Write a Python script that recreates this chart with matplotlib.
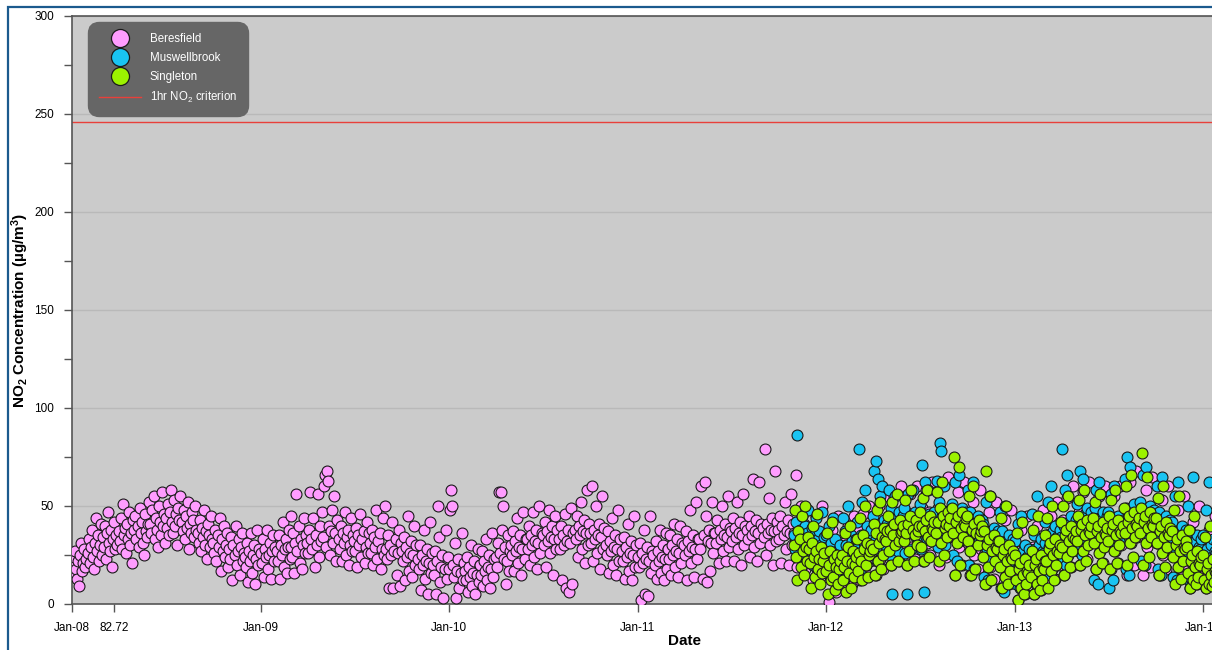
import numpy as np
import pandas as pd
import matplotlib
matplotlib.use("Agg")
import matplotlib.pyplot as plt
import matplotlib.dates as mdates
from matplotlib.patches import Rectangle
from matplotlib.lines import Line2D

plt.rcParams['font.family'] = ['Liberation Sans', 'DejaVu Sans']
plt.rcParams['mathtext.fontset'] = 'custom'
plt.rcParams['mathtext.rm'] = 'Liberation Sans'
plt.rcParams['mathtext.bf'] = 'Liberation Sans:bold'
plt.rcParams['mathtext.default'] = 'regular'

# daily NO2 (ug/m3), one row per month, ~every second day
beresfield_start = '2008-01-01'
beresfield = [
    # 2008
    20, 15, 24, 27, 18, 13, 22, 9, 25, 31, 17, 21, 28, 19, 23,
    26, 33, 21, 29, 38, 24, 18, 31, 44, 27, 35, 22, 30, 41, 25,
    34, 29, 40, 23, 36, 47, 31, 27, 38, 19, 33, 42, 28, 35, 30,
    37, 32, 44, 28, 51, 35, 39, 26, 41, 33, 47, 30, 36, 21, 43,
    38, 45, 33, 40, 29, 49, 36, 42, 31, 25, 46, 37, 34, 41, 52,
    41, 36, 48, 55, 33, 44, 38, 29, 50, 42, 35, 57, 40, 46, 31,
    44, 39, 51, 35, 47, 58, 42, 36, 53, 40, 46, 30, 49, 43, 55,
    42, 37, 48, 33, 45, 39, 52, 28, 41, 36, 47, 43, 34, 50, 38,
    36, 31, 43, 27, 39, 34, 48, 30, 37, 23, 41, 35, 29, 45, 33,
    31, 26, 38, 22, 35, 29, 44, 17, 33, 27, 40, 24, 30, 36, 19,
    28, 23, 34, 12, 30, 25, 40, 20, 27, 33, 15, 29, 36, 22, 26,
    24, 19, 31, 11, 27, 22, 36, 16, 25, 30, 10, 23, 38, 20, 28,
    # 2009
    26, 21, 33, 14, 28, 24, 38, 18, 25, 31, 13, 27, 35, 22, 29,
    27, 22, 35, 13, 30, 25, 42, 19, 28, 33, 16, 29, 38, 23, 45,
    29, 24, 36, 16, 31, 56, 27, 40, 21, 33, 18, 30, 44, 26, 35,
    31, 26, 38, 57, 33, 28, 44, 19, 35, 30, 56, 24, 40, 32, 47,
    34, 60, 66, 29, 68, 63, 40, 25, 37, 48, 31, 55, 36, 22, 43,
    33, 28, 40, 22, 36, 31, 47, 25, 34, 38, 20, 30, 44, 27, 35,
    32, 27, 39, 19, 35, 30, 46, 24, 33, 37, 21, 29, 42, 26, 36,
    31, 26, 38, 20, 34, 29, 48, 23, 32, 36, 18, 28, 44, 25, 50,
    28, 23, 35, 8, 30, 25, 42, 8, 27, 33, 15, 26, 38, 9, 31,
    27, 22, 34, 12, 29, 24, 45, 17, 26, 32, 14, 25, 40, 20, 30,
    23, 18, 30, 7, 25, 20, 38, 13, 22, 28, 5, 21, 42, 16, 26,
    20, 15, 27, 5, 22, 50, 34, 11, 19, 25, 3, 18, 38, 13, 24,
    # 2010
    18, 48, 58, 50, 20, 14, 31, 3, 17, 23, 8, 16, 36, 12, 21,
    17, 12, 24, 6, 19, 14, 30, 9, 16, 22, 5, 15, 28, 11, 20,
    20, 15, 27, 9, 22, 17, 33, 12, 19, 25, 8, 18, 36, 14, 23,
    24, 19, 31, 57, 26, 57, 38, 50, 23, 29, 10, 22, 35, 17, 27,
    30, 25, 37, 17, 32, 27, 44, 21, 29, 35, 15, 28, 47, 23, 33,
    33, 28, 40, 20, 35, 30, 47, 24, 32, 38, 18, 31, 50, 26, 36,
    35, 30, 42, 19, 37, 32, 48, 26, 34, 40, 15, 33, 45, 28, 38,
    33, 28, 40, 12, 35, 30, 46, 8, 32, 38, 6, 31, 49, 10, 36,
    38, 33, 45, 24, 40, 35, 52, 28, 37, 43, 21, 36, 58, 30, 41,
    36, 31, 60, 22, 38, 33, 50, 26, 35, 41, 18, 34, 55, 28, 39,
    30, 25, 37, 16, 32, 27, 44, 20, 29, 35, 15, 28, 48, 22, 33,
    27, 22, 34, 13, 29, 24, 41, 17, 26, 32, 12, 25, 45, 19, 30,
    # 2011
    24, 19, 31, 2, 26, 21, 38, 5, 23, 29, 4, 22, 45, 16, 27,
    25, 20, 32, 13, 27, 22, 38, 16, 24, 30, 12, 23, 36, 18, 28,
    28, 23, 35, 15, 30, 25, 41, 19, 27, 33, 14, 26, 40, 21, 31,
    30, 25, 37, 12, 32, 27, 48, 21, 29, 35, 14, 28, 52, 23, 33,
    33, 28, 60, 13, 35, 62, 45, 11, 32, 38, 17, 31, 52, 26, 36,
    36, 31, 43, 21, 38, 33, 50, 27, 35, 41, 22, 34, 55, 29, 39,
    37, 32, 44, 22, 39, 34, 52, 28, 36, 42, 20, 35, 56, 30, 40,
    38, 33, 45, 24, 40, 35, 64, 29, 37, 43, 22, 36, 62, 31, 41,
    39, 34, 79, 25, 41, 36, 54, 30, 38, 44, 20, 37, 68, 32, 42,
    38, 33, 45, 21, 40, 35, 52, 28, 37, 43, 20, 36, 56, 30, 41,
    36, 31, 66, 19, 38, 33, 50, 26, 35, 41, 18, 34, 48, 28, 39,
    30, 25, 37, 12, 32, 27, 45, 20, 29, 35, 14, 28, 50, 22, 33,
    # 2012
    22, 17, 29, 1, 24, 19, 38, 12, 21, 27, 6, 20, 45, 14, 25,
    24, 19, 31, 8, 26, 21, 40, 14, 23, 29, 10, 22, 45, 16, 27,
    30, 25, 37, 12, 32, 27, 46, 20, 29, 35, 15, 28, 50, 22, 33,
    34, 29, 41, 15, 36, 31, 50, 23, 33, 39, 18, 32, 55, 26, 37,
    38, 33, 45, 20, 40, 35, 55, 28, 37, 43, 22, 36, 60, 30, 41,
    40, 35, 47, 20, 42, 37, 56, 29, 39, 45, 23, 38, 60, 32, 43,
    42, 37, 49, 22, 44, 39, 58, 31, 41, 47, 25, 40, 62, 34, 45,
    42, 37, 49, 20, 44, 39, 60, 31, 41, 47, 24, 40, 65, 34, 45,
    40, 35, 47, 15, 42, 37, 57, 29, 39, 45, 20, 38, 62, 32, 43,
    36, 31, 43, 15, 38, 33, 52, 25, 35, 41, 18, 34, 58, 28, 39,
    30, 25, 37, 10, 32, 27, 47, 19, 29, 35, 13, 28, 52, 22, 33,
    26, 21, 33, 8, 28, 23, 43, 15, 25, 31, 10, 24, 48, 18, 29,
    # 2013
    20, 15, 27, 2, 22, 17, 38, 10, 19, 25, 5, 18, 45, 12, 23,
    22, 17, 29, 5, 24, 19, 40, 12, 21, 27, 7, 20, 48, 14, 25,
    28, 23, 35, 10, 30, 25, 45, 18, 27, 33, 13, 26, 52, 20, 31,
    36, 31, 43, 15, 38, 33, 54, 25, 35, 41, 19, 34, 60, 28, 39,
    40, 35, 47, 20, 42, 37, 57, 29, 39, 45, 23, 38, 62, 32, 43,
    38, 33, 45, 18, 40, 35, 55, 27, 37, 43, 21, 36, 60, 30, 41,
    38, 33, 45, 18, 40, 35, 55, 27, 37, 43, 21, 36, 60, 30, 41,
    42, 37, 49, 15, 44, 39, 62, 31, 41, 47, 20, 40, 68, 34, 45,
    40, 35, 47, 15, 42, 37, 58, 29, 39, 45, 19, 38, 65, 32, 43,
    36, 31, 43, 15, 38, 33, 53, 25, 35, 41, 18, 34, 60, 28, 39,
    30, 25, 37, 12, 32, 27, 48, 19, 29, 35, 14, 28, 55, 22, 33,
    24, 19, 31, 8, 26, 21, 42, 14, 23, 29, 10, 22, 50, 16, 27,
    # 2014
    20, 15, 27, 8, 22, 17, 38, 11, 19, 25, 9, 18, 45, 13, 23,
    21, 16, 28, 9, 23, 18, 40, 12, 20, 26, 10, 19, 44, 14, 24,
]

muswellbrook_start = '2011-11-01'
muswellbrook = [
    35, 28, 42, 86, 31, 38, 24, 45, 33, 29, 40, 21, 36, 48, 30,
    32, 26, 39, 20, 35, 29, 44, 18, 33, 37, 23, 30, 47, 27, 34,
    35, 16, 28, 40, 22, 31, 19, 44, 25, 33, 15, 27, 21, 26, 30,
    24, 44, 13, 37, 30, 20, 50, 27, 17, 35, 32, 23, 29, 28, 33,
    42, 29, 79, 17, 35, 52, 24, 31, 58, 20, 40, 27, 34, 33, 38,
    45, 68, 32, 73, 22, 64, 38, 55, 27, 60, 37, 43, 30, 36, 41,
    36, 58, 25, 49, 5, 42, 31, 55, 44, 27, 47, 34, 41, 40, 45,
    49, 26, 42, 5, 56, 36, 44, 28, 58, 38, 47, 34, 41, 40, 45,
    51, 28, 71, 38, 6, 62, 44, 33, 58, 46, 40, 36, 43, 42, 47,
    39, 63, 29, 52, 82, 78, 45, 34, 60, 30, 47, 41, 37, 43, 48,
    51, 25, 44, 62, 38, 22, 46, 66, 33, 40, 49, 36, 43, 42, 47,
    34, 58, 20, 47, 40, 29, 62, 18, 42, 36, 45, 32, 39, 38, 43,
    41, 14, 34, 52, 28, 12, 36, 55, 23, 30, 39, 26, 33, 32, 37,
    24, 47, 8, 37, 30, 6, 50, 19, 32, 26, 35, 22, 29, 28, 33,
    32, 10, 25, 41, 19, 8, 45, 14, 27, 21, 30, 17, 24, 23, 28,
    22, 46, 12, 35, 28, 10, 55, 17, 30, 24, 33, 20, 27, 26, 31,
    42, 17, 35, 52, 29, 15, 60, 24, 37, 31, 40, 27, 34, 33, 38,
    34, 79, 22, 40, 58, 20, 66, 29, 42, 36, 45, 32, 39, 38, 43,
    51, 27, 44, 68, 38, 25, 64, 33, 46, 40, 49, 36, 43, 42, 47,
    36, 12, 49, 58, 42, 10, 62, 31, 44, 38, 47, 34, 41, 40, 45,
    47, 8, 34, 56, 40, 12, 60, 29, 42, 36, 45, 32, 39, 38, 43,
    38, 64, 18, 75, 44, 15, 70, 33, 46, 40, 51, 36, 43, 42, 47,
    52, 22, 39, 66, 45, 20, 70, 34, 47, 41, 50, 37, 44, 43, 48,
    34, 60, 18, 47, 40, 15, 65, 29, 42, 36, 45, 32, 39, 38, 43,
    42, 14, 29, 55, 35, 12, 62, 24, 37, 31, 40, 27, 34, 33, 38,
    24, 50, 12, 37, 30, 10, 65, 19, 32, 26, 35, 22, 29, 28, 33,
    35, 11, 22, 48, 28, 10, 62, 17, 30, 24, 33, 20, 27, 26, 31,
    24, 48, 13, 37, 30, 12, 55, 19, 32, 26, 35, 22, 29, 28, 33,
]

singleton_start = '2011-11-01'
singleton = [
    30, 48, 24, 12, 37, 33, 19, 45, 27, 15, 50, 29, 22, 34, 28,
    21, 8, 31, 40, 24, 14, 27, 46, 18, 23, 10, 29, 16, 22, 26,
    17, 36, 5, 20, 27, 12, 42, 14, 23, 7, 19, 25, 10, 18, 22,
    25, 12, 19, 36, 6, 22, 29, 16, 40, 8, 21, 27, 14, 20, 24,
    33, 17, 26, 44, 22, 12, 35, 28, 50, 20, 31, 14, 25, 27, 30,
    28, 41, 15, 36, 48, 22, 31, 52, 18, 34, 25, 39, 33, 32, 37,
    45, 27, 38, 20, 52, 35, 41, 30, 56, 22, 32, 43, 36, 37, 40,
    32, 53, 36, 20, 41, 27, 45, 58, 38, 22, 35, 43, 30, 37, 40,
    47, 29, 40, 54, 22, 37, 43, 58, 34, 24, 45, 32, 39, 38, 42,
    36, 57, 42, 22, 49, 31, 62, 45, 25, 39, 41, 34, 47, 40, 44,
    49, 36, 75, 15, 42, 31, 45, 70, 20, 39, 47, 34, 41, 40, 44,
    45, 32, 55, 27, 15, 38, 60, 41, 18, 36, 30, 43, 35, 37, 40,
    24, 37, 10, 68, 30, 19, 33, 55, 12, 27, 35, 22, 29, 28, 32,
    32, 19, 44, 8, 25, 28, 14, 50, 22, 10, 30, 17, 24, 23, 27,
    25, 12, 36, 2, 18, 21, 8, 42, 15, 5, 23, 10, 17, 16, 20,
    14, 27, 38, 5, 20, 23, 10, 45, 17, 7, 25, 12, 19, 18, 22,
    35, 22, 44, 8, 28, 31, 17, 50, 25, 12, 33, 20, 27, 26, 30,
    42, 29, 50, 15, 35, 38, 24, 55, 32, 19, 40, 27, 34, 33, 37,
    32, 45, 53, 20, 38, 41, 27, 58, 35, 22, 43, 30, 37, 36, 40,
    44, 31, 52, 18, 37, 40, 26, 56, 34, 21, 42, 29, 36, 35, 39,
    32, 45, 18, 53, 38, 41, 27, 58, 35, 21, 43, 30, 37, 36, 40,
    49, 36, 60, 20, 42, 45, 31, 66, 39, 24, 47, 34, 41, 40, 44,
    36, 49, 77, 20, 42, 45, 31, 65, 39, 24, 47, 34, 41, 40, 44,
    44, 31, 54, 15, 37, 40, 26, 60, 34, 19, 42, 29, 36, 35, 39,
    37, 24, 48, 10, 30, 33, 19, 55, 27, 13, 35, 22, 29, 28, 32,
    29, 16, 38, 8, 22, 25, 12, 45, 19, 10, 27, 14, 21, 20, 24,
    25, 12, 34, 8, 18, 21, 10, 40, 15, 9, 23, 11, 17, 16, 20,
    27, 14, 36, 8, 20, 23, 11, 42, 17, 9, 25, 12, 19, 18, 22,
]

criterion = 246
series_names = ['Beresfield', 'Muswellbrook', 'Singleton']
series_colors = ['#ff9cff', '#19c4f2', '#9cf200']


def month_dates(start, n_values, per_month=15):
    months = pd.date_range(start, periods=n_values // per_month, freq='MS')
    return [m + pd.Timedelta(days=2 * i) for m in months for i in range(per_month)]


W, H = 1212, 650
fig = plt.figure(figsize=(W / 100, H / 100), dpi=100)

# blue frame around the chart (cut off at right / bottom)
fig.patches.append(Rectangle((8 / W, -0.1), 2.0, 1.1 - 7 / H, transform=fig.transFigure,
                             fill=False, edgecolor='#1b5a8e', lw=1.6))

x0 = mdates.date2num(pd.Timestamp('2008-01-01'))
x1 = mdates.date2num(pd.Timestamp('2014-07-01'))
px_per_day = (1203 - 72) / (mdates.date2num(pd.Timestamp('2014-01-01')) - x0)
ax_w_px = (x1 - x0) * px_per_day
ax = fig.add_axes([72 / W, 46 / H, ax_w_px / W, 588 / H])
ax.set_facecolor('#cbcbcb')

for name, start, vals, col in zip(series_names,
                                  [beresfield_start, muswellbrook_start, singleton_start],
                                  [beresfield, muswellbrook, singleton], series_colors):
    ax.scatter(month_dates(start, len(vals)), vals, s=62, c=col, edgecolors='#1a1a1a',
               linewidths=0.8, zorder=3, label=name)

ax.axhline(criterion, color='#e8403a', lw=1.0, zorder=2)

ax.set_xlim(x0, x1)
ax.set_ylim(0, 300)
ax.set_yticks(np.arange(0, 301, 50))
ax.set_yticks(np.arange(25, 300, 50), minor=True)
ax.yaxis.grid(True, which='major', color='#b9b9b9', lw=1.0, zorder=0)
ax.set_axisbelow(True)

xt = [mdates.date2num(pd.Timestamp(f'20{y:02d}-01-01')) for y in range(8, 15)]
xl = [pd.Timestamp(f'20{y:02d}-01-01').strftime('%b-%y') for y in range(8, 15)]
xt.insert(1, x0 + 81)
xl.insert(1, '82.72')
ax.set_xticks(xt)
ax.set_xticklabels(xl)

ax.tick_params(axis='both', which='both', direction='out', length=6, width=1,
               color='#555555', labelsize=8.5, pad=7)
for sp in ax.spines.values():
    sp.set_color('#555555')
    sp.set_linewidth(1.2)

ax.set_xlabel('Date', fontsize=11, fontweight='bold', labelpad=0)
ax.set_ylabel(r'NO$_\mathbf{2}$ Concentration (µg/m$^\mathbf{3}$)', fontsize=11,
              fontweight='bold', labelpad=2)

handles = [Line2D([], [], ls='none', marker='o', ms=13, mfc=c, mec='#1a1a1a', mew=0.9)
           for c in series_colors]
handles.append(Line2D([], [], color='#e8403a', lw=1.0))
labels = series_names + ['1hr NO$_2$ criterion']
leg = ax.legend(handles, labels, loc='upper left',
                bbox_to_anchor=(18 / ax_w_px, 1 - 8 / 588), borderaxespad=0,
                frameon=True, fancybox=True, facecolor='#666666', edgecolor='#666666',
                framealpha=1, labelcolor='white', fontsize=8.3, handlelength=3.7,
                handletextpad=0.75, labelspacing=0.62, borderpad=0.75)
leg.get_frame().set_boxstyle('round,pad=0.2,rounding_size=1.0')

fig.savefig('out.png', dpi=100)
